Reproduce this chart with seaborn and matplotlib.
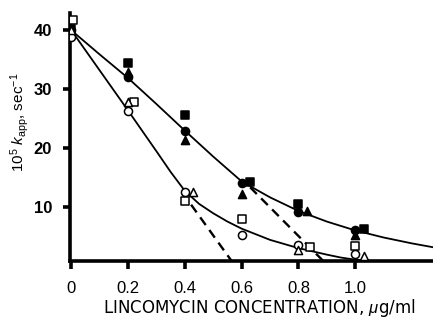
import numpy as np
import pandas as pd
import matplotlib
matplotlib.use("Agg")
import matplotlib.pyplot as plt
import seaborn as sns

sns.set_theme(style="ticks")
plt.rcParams["font.family"] = ["Liberation Sans", "DejaVu Sans"]
plt.rcParams["mathtext.fontset"] = "custom"
plt.rcParams["mathtext.rm"] = "Liberation Sans"
plt.rcParams["mathtext.it"] = "Liberation Sans:italic"

# --- measured rate constants (10^5 k_app, sec^-1) vs lincomycin (ug/ml) ---
# upper group: filled symbols
fc_x = [0.0, 0.2, 0.4, 0.6, 0.8, 1.0]
fc_y = [40.0, 32.0, 22.9, 14.2, 9.3, 6.2]
fs_x = [0.0, 0.2, 0.4, 0.63, 0.8, 1.03]
fs_y = [40.2, 34.4, 25.6, 14.3, 10.5, 6.4]
ft_x = [0.0, 0.2, 0.4, 0.6, 0.83, 1.0]
ft_y = [39.8, 33.0, 21.4, 12.3, 9.4, 5.4]
# lower group: open symbols
oc_x = [0.0, 0.2, 0.4, 0.6, 0.8, 1.0]
oc_y = [38.8, 26.4, 12.6, 5.3, 3.6, 2.1]
os_x = [0.005, 0.22, 0.4, 0.6, 0.84, 1.0]
os_y = [41.7, 27.8, 11.0, 8.0, 3.3, 3.4]
ot_x = [0.0, 0.2, 0.43, 0.8, 1.03]
ot_y = [40.0, 27.8, 12.6, 2.7, 1.7]

# fitted curves
upper_x = [0.0, 0.1, 0.2, 0.3, 0.4, 0.5, 0.6, 0.7, 0.8, 0.9, 1.0, 1.1, 1.2, 1.28]
upper_y = [40.0, 35.9, 31.9, 27.5, 23.0, 18.6, 14.4, 11.7, 9.4, 7.6, 6.1, 4.9, 3.9, 3.2]
lower_x = [0.0, 0.1, 0.2, 0.3, 0.35, 0.4, 0.45, 0.5, 0.55, 0.6, 0.7, 0.8, 0.9, 0.95, 1.0, 1.06]
lower_y = [40.0, 33.2, 26.4, 19.5, 16.0, 12.8, 10.6, 9.0, 7.6, 6.4, 4.5, 3.1, 2.0, 1.5, 1.15, 0.9]
# extrapolated initial slopes
dash1_x = [0.39, 0.565]
dash1_y = [12.6, 0.9]
dash2_x = [0.63, 0.888]
dash2_y = [13.4, 0.9]

xticks = [0.0, 0.2, 0.4, 0.6, 0.8, 1.0]
xticklabels = ["0", "0.2", "0.4", "0.6", "0.8", "1.0"]
yticks = [10, 20, 30, 40]

fig = plt.figure(figsize=(4.33, 3.2), dpi=100)
ax = fig.add_axes([0.162, 0.184, 0.838, 0.775])

curves = pd.concat([
    pd.DataFrame({"x": upper_x, "y": upper_y, "c": "upper"}),
    pd.DataFrame({"x": lower_x, "y": lower_y, "c": "lower"}),
])
for name, g in curves.groupby("c"):
    sns.lineplot(data=g, x="x", y="y", ax=ax, color="black", lw=1.3,
                 sort=False, estimator=None)
for dx, dy in [(dash1_x, dash1_y), (dash2_x, dash2_y)]:
    sns.lineplot(x=dx, y=dy, ax=ax, color="black", lw=1.7,
                 dashes=False, linestyle=(0, (4.0, 2.6)), estimator=None)

series = [
    (fc_x, fc_y, "o", True),
    (fs_x, fs_y, "s", True),
    (ft_x, ft_y, "^", True),
    (oc_x, oc_y, "o", False),
    (os_x, os_y, "s", False),
    (ot_x, ot_y, "^", False),
]
for sx, sy, m, filled in series:
    sns.scatterplot(x=sx, y=sy, ax=ax, marker=m, s=34, zorder=3,
                    color="black" if filled else "white",
                    edgecolor="black", linewidth=1.1)

ax.set_xlim(-0.004, 1.274)
ax.set_ylim(0.9, 42.9)
ax.set_xticks(xticks)
ax.set_xticklabels(xticklabels)
ax.set_yticks(yticks)
for lab in ax.get_yticklabels():
    lab.set_fontweight("bold")

sns.despine(ax=ax)
ax.spines["left"].set_linewidth(2.6)
ax.spines["bottom"].set_linewidth(2.6)
ax.spines["left"].set_color("black")
ax.spines["bottom"].set_color("black")
ax.tick_params(axis="x", length=6, width=2.6, pad=8, labelsize=12, colors="black")
ax.tick_params(axis="y", length=5, width=2.6, pad=8, labelsize=12, colors="black")

ax.set_xlabel(r"LINCOMYCIN CONCENTRATION, $\mu$g/ml", fontsize=12,
              family=["DejaVu Sans"], color="black")
ax.xaxis.label.set_va("center")
ax.xaxis.set_label_coords(0.52, -0.19)
ax.set_ylabel(r"10$^5$ $k_{\rm app}$, sec$^{-1}$", fontsize=11, color="black")
ax.yaxis.label.set_va("center")
ax.yaxis.set_label_coords(-0.14, 0.56)

fig.savefig("out.png", dpi=100)
